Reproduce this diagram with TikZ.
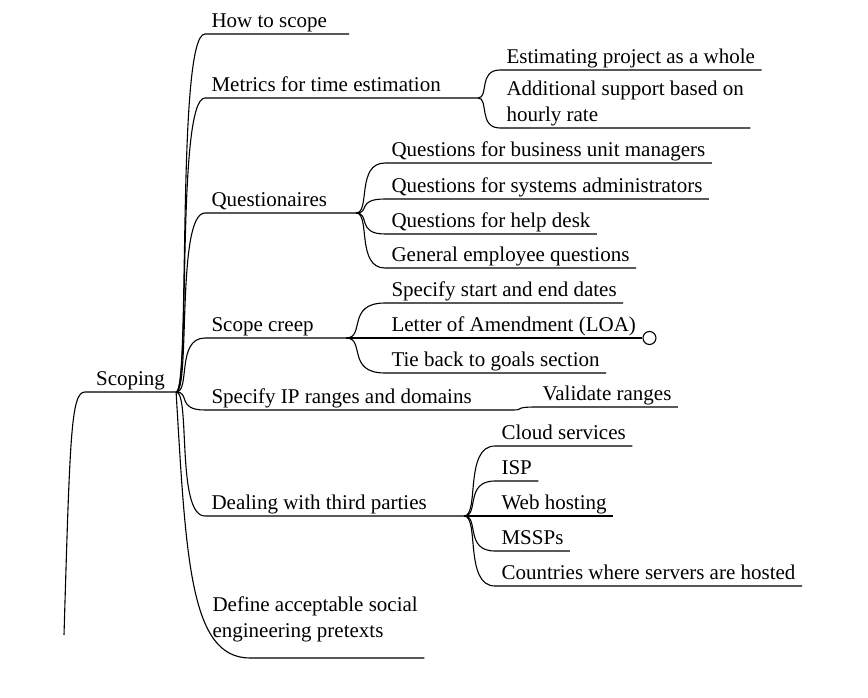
\documentclass[tikz,border=0pt]{standalone}
\usepackage{fontspec}
\setmainfont{Liberation Serif}
\usetikzlibrary{calc}

\tikzset{
  topic/.style={anchor=south west, inner xsep=6pt, inner ysep=1pt, text depth=5pt, align=flush left},
  branch/.style={to path={.. controls ($(\tikztostart)!0.5!(\tikztostart -| \tikztotarget)$) and (\tikztostart |- \tikztotarget) .. (\tikztotarget)}},
}

\begin{document}
\begin{tikzpicture}[x=1pt, y=-1pt, line width=1.1pt, font=\fontsize{21}{25.5}\selectfont]
  \useasboundingbox (0,0) rectangle (868,698);

  % root
  \node[topic, text width=78pt, align=flush center] (scop) at (85,392) {Scoping};
  \coordinate (stem) at (64,635);

  % first level
  \node[topic, text width=131pt] (howto) at (205,34) {How to scope};
  \node[topic, text width=260pt] (metrics) at (205,98) {Metrics for time estimation};
  \node[topic, text width=138pt] (quest) at (205,213) {Questionaires};
  \node[topic, text width=128pt] (creep) at (205,338) {Scope creep};
  \node[topic, text width=295pt] (iprange) at (205,410) {Specify IP ranges and domains};
  \node[topic, text width=246pt] (third) at (205,516) {Dealing with third parties};
  \node[topic, inner ysep=15pt] (pretext) at (206,658) {Define acceptable social\\engineering pretexts};
  \coordinate (pretextin) at ($(pretext.south west)+(44,0)$);

  % second level
  \node[topic] (estim) at (500,70) {Estimating project as a whole};
  \node[topic] (addsup) at (500,128) {Additional support based on\\hourly rate};

  \node[topic] (qbiz) at (385,163) {Questions for business unit managers};
  \node[topic] (qsys) at (385,199) {Questions for systems administrators};
  \node[topic] (qhelp) at (385,234) {Questions for help desk};
  \node[topic] (qgen) at (385,268) {General employee questions};

  \node[topic] (sdates) at (385,303) {Specify start and end dates};
  \node[topic] (loa) at (385,338) {Letter of Amendment (LOA)};
  \node[topic] (tieback) at (385,373) {Tie back to goals section};

  \node[topic] (valid) at (536,407) {Validate ranges};

  \node[topic] (cloud) at (495,446) {Cloud services};
  \node[topic] (isp) at (495,481) {ISP};
  \node[topic] (web) at (495,516) {Web hosting};
  \node[topic] (mssp) at (495,551) {MSSPs};
  \node[topic] (countries) at (495,586) {Countries where servers are hosted};

  % connectors
  \draw (stem) .. controls +(6,-200) and +(-14,0) .. (scop.south west) -- (scop.south east);
  \foreach \n in {howto,metrics,quest,creep,iprange,third}
    \draw (scop.south east) to[branch] (\n.south west) -- (\n.south east);
  \draw (scop.south east) .. controls +(10,168) and +(-60,0) .. (pretextin) -- (pretext.south east);

  \foreach \n in {estim,addsup}
    \draw (metrics.south east) to[branch] (\n.south west) -- (\n.south east);
  \foreach \n in {qbiz,qsys,qhelp,qgen}
    \draw (quest.south east) to[branch] (\n.south west) -- (\n.south east);
  \foreach \n in {sdates,loa,tieback}
    \draw (creep.south east) to[branch] (\n.south west) -- (\n.south east);
  \draw (iprange.south east) to[branch] (valid.south west) -- (valid.south east);
  \foreach \n in {cloud,isp,web,mssp,countries}
    \draw (third.south east) to[branch] (\n.south west) -- (\n.south east);

  \node[circle, draw, fill=white, minimum size=13pt, inner sep=0pt, anchor=west] (loaend) at (loa.south east) {};
\end{tikzpicture}
\end{document}
